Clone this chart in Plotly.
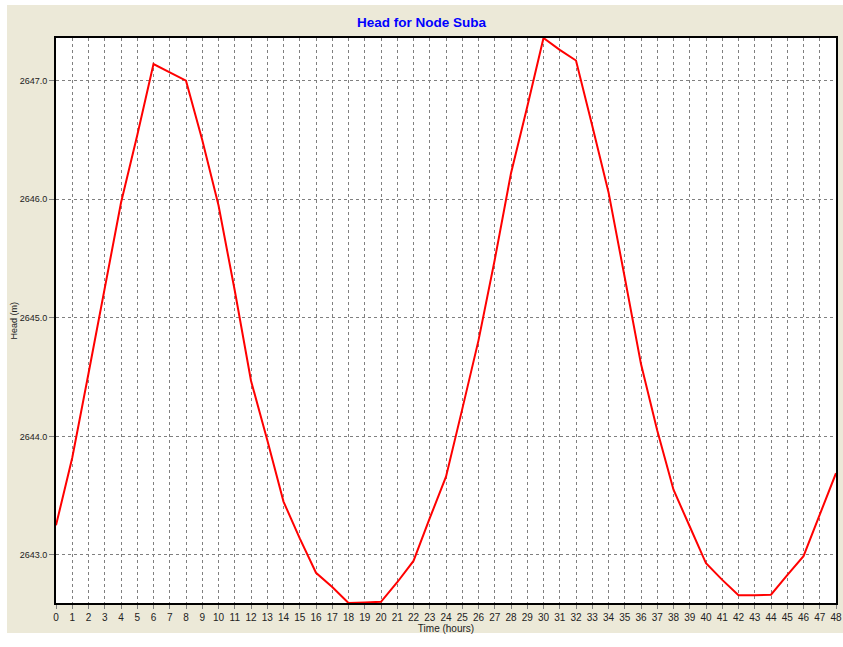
import plotly.graph_objects as go

hours = list(range(0, 49))
head_m = [
    2643.25, 2643.82, 2644.53, 2645.25, 2645.97, 2646.54, 2647.14, 2647.07, 2647.00,
    2646.50, 2645.95, 2645.23, 2644.47, 2643.97, 2643.45, 2643.14, 2642.85, 2642.73,
    2642.595, 2642.60, 2642.605, 2642.77, 2642.95, 2643.31, 2643.66, 2644.23, 2644.81,
    2645.49, 2646.22, 2646.78, 2647.36, 2647.26, 2647.17, 2646.62, 2646.06, 2645.34,
    2644.61, 2644.05, 2643.55, 2643.24, 2642.93, 2642.79, 2642.66, 2642.66, 2642.665,
    2642.83, 2642.99, 2643.34, 2643.69,
]
y_ticks = [2643.0, 2644.0, 2645.0, 2646.0, 2647.0]
x_ticks = list(range(0, 49))

title_text = "Head for Node Suba"
x_title = "Time (hours)"
y_title = "Head (m)"

W, H = 843, 647
L, R, T, B = 56, 7, 38, 44
pw, ph = W - L - R, H - T - B

def px_x(p):
    return (p - L) / pw

def px_y(p):
    return (H - B - p) / ph

fig = go.Figure()
fig.add_trace(go.Scatter(
    x=hours, y=head_m, mode="lines",
    line=dict(color="#FF0000", width=2),
    hoverinfo="skip", showlegend=False,
))

FONT = "Liberation Sans, Arial, sans-serif"
tickfont = dict(family=FONT, size=10, color="#222222")

fig.update_layout(
    width=W, height=H,
    margin=dict(l=L, r=R, t=T, b=B, autoexpand=False),
    paper_bgcolor="#FFFFFF",
    plot_bgcolor="#FFFFFF",
    showlegend=False,
    title=dict(text=f"<b>{title_text}</b>", x=0.5, xref="container", xanchor="center",
               y=1 - 22 / H, yref="container", yanchor="middle",
               font=dict(family=FONT, size=13.5, color="#0000FF")),
    shapes=[
        dict(type="rect", xref="paper", yref="paper", layer="below",
             x0=px_x(7), x1=px_x(843), y0=px_y(633), y1=px_y(5),
             fillcolor="#ECE9D8", line=dict(width=0)),
        dict(type="rect", xref="paper", yref="paper", layer="below",
             x0=0, x1=1, y0=0, y1=1,
             fillcolor="#FFFFFF", line=dict(width=0)),
    ],
    annotations=[
        dict(text=y_title, xref="paper", yref="paper", x=px_x(13), y=0.5,
             xanchor="center", yanchor="middle", textangle=-90, showarrow=False,
             font=dict(family=FONT, size=9, color="#222222")),
    ],
)

fig.update_xaxes(
    range=[0, 48], tickmode="array", tickvals=x_ticks,
    ticktext=[str(v) for v in x_ticks],
    showgrid=True, gridcolor="#808080", griddash="3px,3px", gridwidth=1,
    showline=True, linecolor="#000000", linewidth=2, mirror=True,
    ticks="outside", ticklen=4, tickcolor="#808080", tickwidth=1,
    tickfont=tickfont, zeroline=False, automargin=False,
    title=dict(text=x_title, font=dict(family=FONT, size=10, color="#222222"), standoff=3),
)
fig.update_yaxes(
    range=[min(head_m), max(head_m)], tickmode="array", tickvals=y_ticks,
    ticktext=[f"{v:.1f}" for v in y_ticks],
    showgrid=True, gridcolor="#808080", griddash="3px,3px", gridwidth=1,
    showline=True, linecolor="#000000", linewidth=2, mirror=True,
    ticks="outside", ticklen=5, tickcolor="#808080", tickwidth=1,
    tickfont=dict(family=FONT, size=9, color="#222222"), zeroline=False, automargin=False,
)

fig.write_html(
    "out.html",
    config={"displayModeBar": False},
    post_script="document.body.style.margin='0';document.body.style.overflow='hidden';",
)
